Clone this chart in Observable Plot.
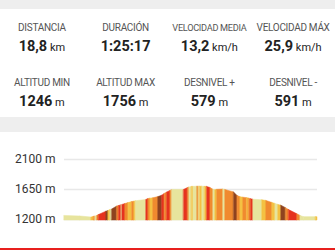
<!DOCTYPE html>
<html>
<head>
<meta charset="utf-8">
<script src="https://cdn.jsdelivr.net/npm/d3@7"></script>
<script src="https://cdn.jsdelivr.net/npm/@observablehq/plot@0.6"></script>
<style>
  html, body { margin: 0; padding: 0; background: #fff; }
  body { width: 335px; height: 250px; position: relative; overflow: hidden; font-family: Roboto, "Noto Sans", sans-serif; }
  .band { position: absolute; left: 0; width: 335px; background: #eeeeee; }
  #stats { position: absolute; left: 0; top: 0; }
  #chart { position: absolute; left: 0; top: 132px; }
  #redline { position: absolute; left: 0; top: 247.5px; width: 335px; height: 3px; background: #e8201e; }
</style>
</head>
<body>
<div class="band" style="top:0;height:8.5px"></div>
<div class="band" style="top:117px;height:15px"></div>
<svg id="stats" width="335" height="117"></svg>
<div id="chart"></div>
<div id="redline"></div>
<script>
// ---- stats ----
const statLabels = ["DISTANCIA", "DURACIÓN", "VELOCIDAD MEDIA", "VELOCIDAD MÁX",
                    "ALTITUD MIN", "ALTITUD MAX", "DESNIVEL +", "DESNIVEL -"];
const statValues = ["18,8", "1:25:17", "13,2", "25,9", "1246", "1756", "579", "591"];
const statUnits  = ["km", "", "km/h", "km/h", "m", "m", "m", "m"];

// ---- elevation profile (segment boundaries) ----
const distanceKm = [0, 1.19, 2.01, 2.19, 2.30, 2.43, 2.56, 3.12, 3.27, 3.42, 3.54, 3.92, 4.05, 4.24, 4.31,
  4.53, 4.76, 5.03, 5.20, 5.31, 6.09, 6.24, 6.39, 6.61, 6.98, 7.26, 7.45, 7.63, 7.88, 8.00, 8.88,
  9.18, 9.29, 9.47, 9.59, 9.88, 9.99, 10.07, 10.25, 10.44, 10.60, 10.85, 11.07, 11.22, 11.35, 11.81,
  11.96, 12.60, 12.86, 13.08, 13.30, 13.58, 13.69, 13.86, 14.04, 14.71, 15.01, 15.45, 15.68, 15.90,
  16.12, 16.46, 16.68, 17.31, 17.54, 17.79, 18.69, 18.80];
const elevationM = [1254, 1245, 1230, 1240, 1245, 1254, 1267, 1318, 1327, 1344, 1350, 1395, 1402, 1414, 1419,
  1432, 1446, 1461, 1467, 1474, 1494, 1507, 1513, 1519, 1536, 1558, 1584, 1605, 1629, 1644, 1644,
  1672, 1681, 1689, 1690, 1692, 1692, 1692, 1692, 1690, 1689, 1672, 1645, 1640, 1645, 1650,
  1643, 1606, 1552, 1535, 1527, 1520, 1515, 1505, 1497, 1488, 1478, 1448, 1433, 1419,
  1407, 1370, 1343, 1277, 1254, 1235, 1235, 1235];
// slope class of the segment starting at each boundary (0 pale .. 4 steep)
const slopeClass = [0, 0, 1, 2, 0, 2, 3, 4, 1, 0, 4, 2, 3, 0, 3,
  2, 1, 2, 1, 0, 3, 2, 1, 2, 4, 3, 2, 3, 2, 0, 3,
  2, 0, 1, 0, 2, 0, 1, 0, 1, 3, 2, 0, 1, 2, 0,
  2, 4, 2, 1, 2, 1, 2, 3, 0, 1, 2, 1, 0, 1,
  4, 2, 3, 2, 0, 0, 1];
const slopeColors = ["#e7e49d", "#f4c142", "#f08a2f", "#e5331f", "#8e421f"];
const yTicks = [1200, 1650, 2100];

// stats header
const svg = d3.select("#stats");
const colCenters = [41.9, 125.6, 209.4, 293.1];
statLabels.forEach((lab, i) => {
  const row = Math.floor(i / 4), col = i % 4;
  const cx = colCenters[col];
  const small = lab === "VELOCIDAD MEDIA";
  svg.append("text")
    .attr("x", cx).attr("y", row ? 86 : 31)
    .attr("text-anchor", "middle")
    .attr("fill", "#555")
    .style("font-size", small ? "9.2px" : "10px")
    .style("letter-spacing", "-0.3px")
    .text(lab);
  const t = svg.append("text")
    .attr("x", cx).attr("y", row ? 105.5 : 50.5)
    .attr("text-anchor", "middle")
    .attr("fill", "#222");
  t.append("tspan").style("font-size", "14.5px").style("font-weight", "700").text(statValues[i]);
  if (statUnits[i]) t.append("tspan").style("font-size", "11px").text(" " + statUnits[i]);
});

// build segment rows
const rows = [];
for (let i = 0; i < slopeClass.length; i++) {
  rows.push({km: distanceKm[i], elev: elevationM[i], seg: i, cls: slopeClass[i]});
  rows.push({km: distanceKm[i + 1], elev: elevationM[i + 1], seg: i, cls: slopeClass[i]});
}

const chart = Plot.plot({
  width: 335,
  height: 110,
  marginLeft: 64,
  marginRight: 18,
  marginTop: 27,
  marginBottom: 23,
  style: {fontFamily: "Roboto, sans-serif", fontSize: "12px", color: "#333", background: "transparent"},
  x: {domain: [0, 18.8], axis: null},
  y: {domain: [1200, 2100], ticks: yTicks, tickFormat: d => d + " m", tickSize: 0, tickPadding: 9, label: null},
  color: {domain: [0, 1, 2, 3, 4], range: slopeColors},
  marks: [
    Plot.ruleY(yTicks, {stroke: "#e8e8e8", strokeWidth: 1.3}),
    Plot.areaY(rows, {x: "km", y1: 1185, y2: "elev", z: "seg", fill: "cls", stroke: "cls", strokeWidth: 0.5})
  ]
});
document.getElementById("chart").appendChild(chart);
</script>
</body>
</html>
